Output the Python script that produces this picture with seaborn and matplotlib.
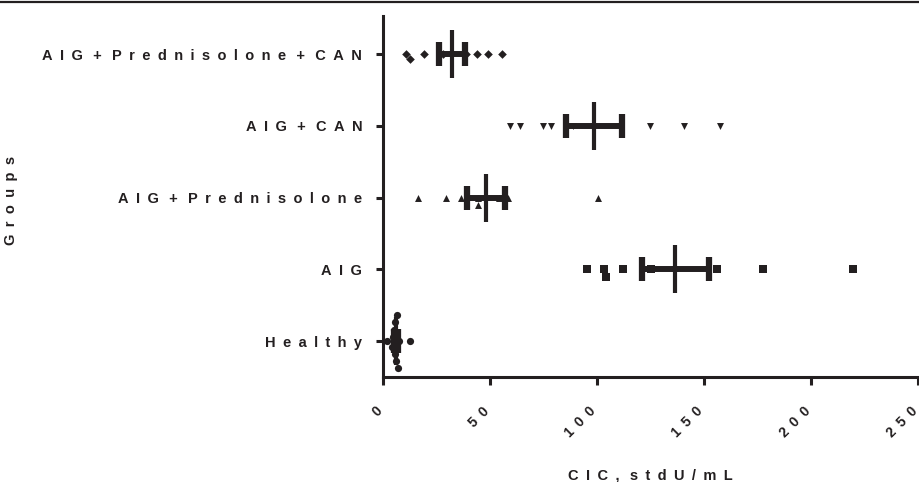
import matplotlib
matplotlib.use("Agg")
import matplotlib.pyplot as plt
import matplotlib.transforms as mtransforms
import seaborn as sns
import numpy as np
import pandas as pd
from matplotlib.lines import Line2D

# ---- data ----
groups = ["AIG + Prednisolone + CAN", "AIG + CAN", "AIG + Prednisolone", "AIG", "Healthy"]
vals_pred_can = [10.7, 12.6, 19.2, 28.0, 39.0, 43.9, 49.0, 55.6]
vals_can = [59.3, 64.0, 74.8, 78.5, 88.8, 124.8, 140.7, 157.5]
vals_pred = [16.4, 29.4, 36.4, 44.4, 44.4, 54.2, 58.4, 100.5]
vals_aig = [95.3, 103.3, 104.2, 112.1, 125.2, 156.1, 177.6, 219.6]
vals_healthy = [1.9, 4.2, 4.8, 5.2, 5.5, 5.8, 6.2, 6.5, 7.0, 7.6, 12.6]
xticks = [0, 50, 100, 150, 200, 250]
xlabel = "CIC, stdU/mL"
ylabel = "Groups"

series = [vals_pred_can, vals_can, vals_pred, vals_aig, vals_healthy]
markers = ["D", "v", "^", "s", "o"]
msizes = [4.4, 5.0, 5.0, 5.2, 5.2]

df = pd.DataFrame({
    "group": np.concatenate([[g] * len(v) for g, v in zip(groups, series)]),
    "value": np.concatenate(series),
})

ink = "#231f20"
EN = "\u2002"
THIN = "\u2009"


def spaced(s):
    words = s.split(" ")
    return (EN + THIN).join(EN.join(list(w)) for w in words)


sns.set_style("white")
plt.rcParams["font.family"] = ["Liberation Sans", "DejaVu Sans"]
plt.rcParams["font.weight"] = "bold"

FS = 10.5

fig = plt.figure(figsize=(9.19, 4.82), dpi=100)
ax = fig.add_axes([383 / 919, 1 - 377 / 482, 535 / 919, (377 - 16) / 482])

for g, m, s in zip(groups, markers, msizes):
    sub = df[df["group"] == g]
    sns.swarmplot(data=sub, x="value", y="group", order=groups, marker=m,
                  color=ink, size=s, ax=ax, orient="h", linewidth=0)

stats = df.groupby("group", sort=False)["value"].agg(["mean", "sem"]).reindex(groups)
ypos = np.arange(len(groups))
# SEM bar with caps
ax.errorbar(stats["mean"], ypos, xerr=stats["sem"], fmt="none",
            ecolor=ink, elinewidth=4.3, capsize=8.5, capthick=4.5, zorder=5)
# mean line
ax.errorbar(stats["mean"], ypos, fmt="|", color=ink, markersize=34,
            markeredgewidth=3.0, zorder=6)

ax.set_xlim(0, 250)
ax.set_ylim(4.5, -0.53)

for side in ["top", "right"]:
    ax.spines[side].set_visible(False)
for side in ["left", "bottom"]:
    ax.spines[side].set_linewidth(2.2)
    ax.spines[side].set_color(ink)
ax.tick_params(axis="x", direction="out", length=6, width=2.2, color=ink, pad=10, bottom=True)
ax.tick_params(axis="y", direction="out", length=5, width=2.2, color=ink, pad=10, left=True)

ax.set_xticks(xticks)
ax.set_xticklabels([spaced(str(t)) for t in xticks], rotation=45, ha="right",
                   rotation_mode="anchor", fontsize=FS - 0.5, fontweight="bold", color=ink)
ax.set_yticks(ypos)
ax.set_yticklabels([spaced(g) for g in groups], fontsize=FS,
                   fontweight="bold", color=ink)

offset = mtransforms.ScaledTranslation(-8 / 100, -5 / 100, fig.dpi_scale_trans)
for tick in ax.xaxis.get_major_ticks():
    tick.label1.set_transform(tick.label1.get_transform() + offset)

ax.set_xlabel(spaced("CIC,") + EN + THIN + spaced("stdU/mL"), fontsize=FS,
              fontweight="bold", color=ink)
ax.xaxis.set_label_coords(0.5, -(468 - 377) / 361)
ax.set_ylabel(spaced(ylabel), fontsize=FS, fontweight="bold", color=ink)
ax.yaxis.set_label_coords(-(383 - 18) / 535, (377 - 200) / 361)

fig.add_artist(Line2D([0, 1], [0.996, 0.996], color=ink, linewidth=1.6))

fig.savefig("out.png", dpi=100)
